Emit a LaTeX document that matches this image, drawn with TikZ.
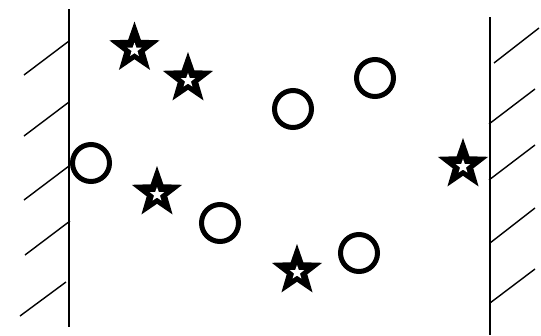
\documentclass[tikz,border=0pt]{standalone}
\begin{document}
\begin{tikzpicture}[x=1pt,y=-1pt,
  wall/.style={line width=1.6pt},
  hatch/.style={line width=1.4pt},
  ring/.style={circle, draw=black, line width=5pt, minimum size=37pt, inner sep=0pt},
  pics/bstar/.style={code={
    \fill[black] (90:27pt) \foreach \a/\r in {126/10.8,162/26.5,198/10.8,234/26.5,270/10.8,306/26.5,342/10.8,18/26.5,54/10.8}{ -- (\a:\r pt)} -- cycle;
    \fill[white] ([yshift=-1.5pt]90:7.5pt) \foreach \a/\r in {126/3.1,162/7.5,198/3.1,234/7.5,270/3.1,306/7.5,342/3.1,18/7.5,54/3.1}{ -- ([yshift=-1.5pt]\a:\r pt)} -- cycle;
  }}]
\useasboundingbox (0,0) rectangle (541,335);
% left wall
\coordinate (lt) at (69,9);
\coordinate (lb) at (69,327);
\draw[wall] (lt) -- (lb);
\foreach \i/\ya/\xb/\yb/\xa in {1/41/24/75/69, 2/102/24/136/69, 3/166/24/200/69, 4/221/25/255/70, 5/282/20/316/66}{
  \coordinate (lh\i a) at (\xa,\ya);
  \coordinate (lh\i b) at (\xb,\yb);
  \draw[hatch] (lh\i a) -- (lh\i b);
}
% right wall
\coordinate (rt) at (490,17);
\coordinate (rb) at (490,335);
\draw[wall] (rt) -- (rb);
\foreach \i/\xa/\ya/\xb/\yb in {1/494/63/539/28, 2/489/124/535/89, 3/489/180/535/145, 4/490/243/535/208, 5/490/303/535/269}{
  \coordinate (rh\i a) at (\xa,\ya);
  \coordinate (rh\i b) at (\xb,\yb);
  \draw[hatch] (rh\i a) -- (rh\i b);
}
% circles
\node[ring] (c1) at (91,163) {};
\node[ring] (c2) at (293,109) {};
\node[ring] (c3) at (375,78) {};
\node[ring] (c4) at (220,223) {};
\node[ring] (c5) at (359,253) {};
% stars
\pic (s1) at (134.5,48.5) {bstar};
\pic (s2) at (188,79) {bstar};
\pic (s3) at (157,193) {bstar};
\pic (s4) at (297,271) {bstar};
\pic (s5) at (463,165) {bstar};
\end{tikzpicture}
\end{document}
